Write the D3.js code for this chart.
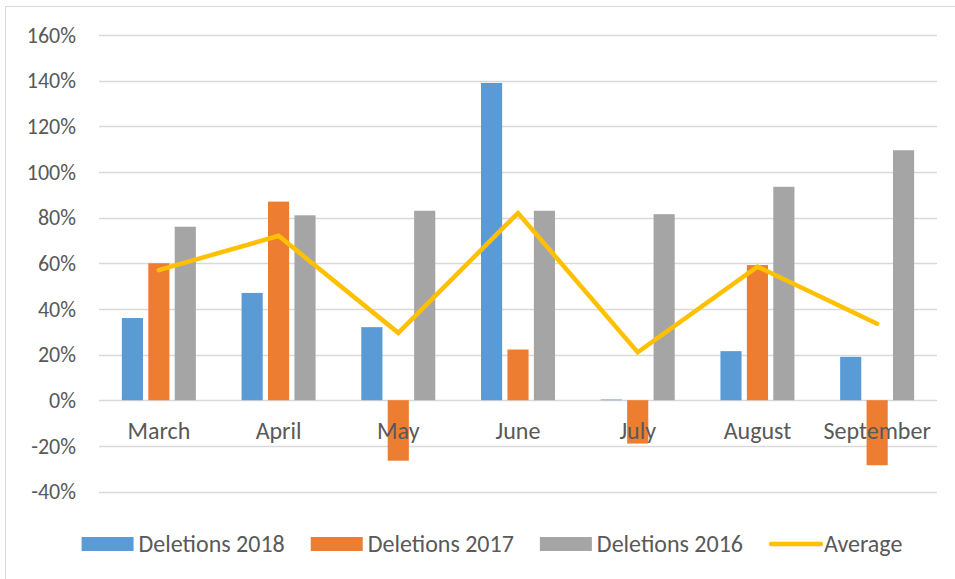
<!DOCTYPE html>
<html>
<head>
<meta charset="utf-8">
<style>
  body { margin: 0; background: #fff; }
  text { font-family: Calibri, Carlito, Lato, sans-serif; fill: #595959; }
</style>
<script src="https://d3js.org/d3.v7.min.js"></script>
</head>
<body>
<script>

    // data (fractions, 0.36 = 36%)
    var months = ["March", "April", "May", "June", "July", "August", "September"];
    var del2018 = [0.36, 0.47, 0.32, 1.39, 0.003, 0.215, 0.19];
    var del2017 = [0.60, 0.87, -0.265, 0.222, -0.19, 0.592, -0.285];
    var del2016 = [0.76, 0.81, 0.83, 0.83, 0.815, 0.935, 1.095];
    var average = [0.57, 0.72, 0.295, 0.82, 0.21, 0.585, 0.335];
    var yTicks = [-0.4, -0.2, 0, 0.2, 0.4, 0.6, 0.8, 1.0, 1.2, 1.4, 1.6];

    var seriesNames = ["Deletions 2018", "Deletions 2017", "Deletions 2016"];
    var seriesColors = ["#5B9BD5", "#ED7D31", "#A5A5A5"];
    var lineColor = "#FFC000";

    var width = 955, height = 579;
    var plotLeft = 99, plotRight = 937, plotTop = 35, plotBottom = 491.5;

    var svg = d3.select("body").append("svg")
        .attr("width", width)
        .attr("height", height);

    // chart frame
    svg.append("rect")
        .attr("x", 5.5).attr("y", 6.5)
        .attr("width", 960).attr("height", 600)
        .attr("fill", "none")
        .attr("stroke", "#D9D9D9")
        .attr("stroke-width", 1);

    var y = d3.scaleLinear().domain([-0.4, 1.6]).range([plotBottom, plotTop]);
    var x = d3.scaleBand().domain(months).range([plotLeft, plotRight]);
    var half = 37;
    var xs = d3.scaleBand().domain(seriesNames)
        .range([x.bandwidth() / 2 - half, x.bandwidth() / 2 + half])
        .paddingInner(0.2);

    // excel style percent, plain hyphen for negatives
    var pct = d3.formatLocale({decimal: ".", thousands: ",", grouping: [3], currency: ["", ""], minus: "-"}).format(".0%");

    // gridlines
    svg.append("g").selectAll("line")
      .data(yTicks)
      .enter().append("line")
      .attr("x1", plotLeft).attr("x2", plotRight)
      .attr("y1", function(d) { return Math.round(y(d)) + 0.5; })
      .attr("y2", function(d) { return Math.round(y(d)) + 0.5; })
      .attr("stroke", "#D9D9D9")
      .attr("stroke-width", 1.3);

    // y tick labels
    svg.append("g").selectAll("text")
      .data(yTicks)
      .enter().append("text")
      .attr("x", 76)
      .attr("y", function(d) { return y(d); })
      .attr("dy", "0.35em")
      .attr("text-anchor", "end")
      .style("font-size", "22px")
      .text(pct);

    // bars
    var allSeries = [del2018, del2017, del2016];
    allSeries.forEach(function(vals, s) {
      svg.append("g").selectAll("rect")
        .data(vals)
        .enter().append("rect")
        .attr("x", function(d, i) { return x(months[i]) + xs(seriesNames[s]); })
        .attr("width", xs.bandwidth())
        .attr("y", function(d) { return y(Math.max(0, d)); })
        .attr("height", function(d) { return Math.abs(y(d) - y(0)); })
        .attr("fill", seriesColors[s]);
    });

    // category labels (drawn over the bars)
    svg.append("g").selectAll("text")
      .data(months)
      .enter().append("text")
      .attr("x", function(d) { return x(d) + x.bandwidth() / 2; })
      .attr("y", 439)
      .attr("text-anchor", "middle")
      .style("font-size", "24px")
      .text(function(d) { return d; });

    // average line
    var line = d3.line()
      .x(function(d, i) { return x(months[i]) + x.bandwidth() / 2; })
      .y(function(d) { return y(d); });

    svg.append("path")
      .datum(average)
      .attr("d", line)
      .attr("fill", "none")
      .attr("stroke", lineColor)
      .attr("stroke-width", 4.5)
      .attr("stroke-linecap", "round")
      .attr("stroke-linejoin", "miter");

    // legend
    var legend = svg.append("g");
    var lx = 0, ly = 544;
    var items = seriesNames.map(function(n, i) { return {name: n, color: seriesColors[i], type: "rect"}; });
    items.push({name: "Average", color: lineColor, type: "line"});

    items.forEach(function(it, i) {
      var g = legend.append("g").attr("transform", "translate(" + lx + ",0)");
      if (it.type == "rect") {
        g.append("rect")
          .attr("x", 0).attr("y", ly - 7)
          .attr("width", 52).attr("height", 14)
          .attr("fill", it.color);
      } else {
        g.append("line")
          .attr("x1", 2).attr("x2", 52)
          .attr("y1", ly).attr("y2", ly)
          .attr("stroke", it.color)
          .attr("stroke-width", 4.5)
          .attr("stroke-linecap", "round");
      }
      var t = g.append("text")
        .attr("x", it.type == "rect" ? 57 : 55)
        .attr("y", ly)
        .attr("dy", "0.35em")
        .style("font-size", "24px")
        .text(it.name);
      lx += (it.type == "rect" ? 57 : 55) + t.node().getComputedTextLength() + 26;
    });
    var legendWidth = lx - 26;
    legend.attr("transform", "translate(" + (492 - legendWidth / 2) + ",0)");

</script>
</body>
</html>
